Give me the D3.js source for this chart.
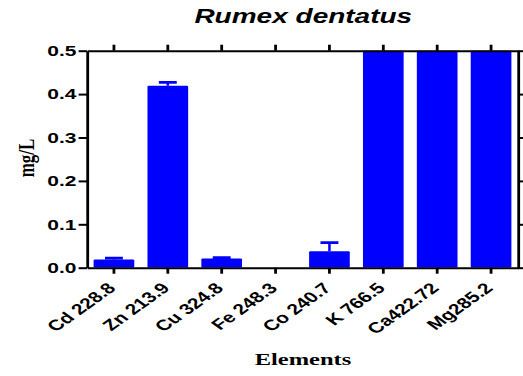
<!DOCTYPE html>
<html>
<head>
<meta charset="utf-8">
<script src="https://cdn.jsdelivr.net/npm/d3@7"></script>
<style>
  html, body { margin: 0; padding: 0; background: #fff; }
  svg { display: block; }
</style>
</head>
<body>
<script>
// ---- data ----
const categories = ["Cd 228.8", "Zn 213.9", "Cu 324.8", "Fe 248.3", "Co 240.7", "K 766.5", "Ca422.72", "Mg285.2"];
// K, Ca and Mg exceed the 0.5 axis limit (bars clipped at top)
const means  = [0.019, 0.419, 0.021, 0.0, 0.038, 5.0, 5.0, 5.0];
const errors = [0.003, 0.008, 0.002, 0.0, 0.020, 0.0, 0.0, 0.0];
const yTicks = [0, 0.1, 0.2, 0.3, 0.4, 0.5];
const chartTitle = "Rumex dentatus";
const yTitle = "mg/L";
const xTitle = "Elements";

(function () {
// ---- layout ----
const W = 523, H = 376;
const SX = 1.4; // horizontal stretch of the whole figure
const pLeft = 87 / SX, pRight = 518 / SX, pTop = 50.7, pBottom = 267.7;
const blue = "#0000ff";

const svg = d3.select("body").append("svg").attr("width", W).attr("height", H);
const g = svg.append("g").attr("transform", `scale(${SX},1)`);

const x = d3.scaleBand().domain(categories).range([pLeft, pRight])
  .paddingInner(0.245).paddingOuter(0.1225);
const y = d3.scaleLinear().domain([0, 0.5]).range([pBottom, pTop]);

g.append("clipPath").attr("id", "plotclip").append("rect")
  .attr("x", pLeft).attr("y", pTop).attr("width", pRight - pLeft).attr("height", pBottom - pTop);

const data = categories.map((c, i) => ({ c, v: means[i], e: errors[i] }));

const plot = g.append("g").attr("clip-path", "url(#plotclip)");
plot.selectAll("rect.bar").data(data).join("rect")
  .attr("class", "bar")
  .attr("x", d => x(d.c))
  .attr("width", x.bandwidth())
  .attr("y", d => y(d.v))
  .attr("height", d => Math.max(0, pBottom - y(d.v)))
  .attr("rx", 1)
  .attr("fill", blue);

const eb = plot.selectAll("g.err").data(data.filter(d => d.e > 0)).join("g").attr("class", "err");
eb.append("line")
  .attr("x1", d => x(d.c) + x.bandwidth() / 2).attr("x2", d => x(d.c) + x.bandwidth() / 2)
  .attr("y1", d => y(d.v)).attr("y2", d => y(d.v + d.e))
  .attr("stroke", blue).attr("stroke-width", 1.8);
eb.append("line")
  .attr("x1", d => x(d.c) + x.bandwidth() / 2 - 6.4).attr("x2", d => x(d.c) + x.bandwidth() / 2 + 6.4)
  .attr("y1", d => y(d.v + d.e)).attr("y2", d => y(d.v + d.e))
  .attr("stroke", blue).attr("stroke-width", 2.7);

// ---- axes ----
const fontSans = "'Liberation Sans', Arial, sans-serif";
const fontSerif = "'Liberation Serif', 'Times New Roman', serif";

function styleAxis(sel) {
  sel.selectAll("path.domain").attr("stroke", "#000").attr("stroke-width", 2);
  sel.selectAll(".tick line").attr("stroke", "#000").attr("stroke-width", 2);
}

const gl = g.append("g").attr("transform", `translate(${pLeft},0)`)
  .call(d3.axisLeft(y).tickValues(yTicks).tickFormat(d3.format(".1f"))
    .tickSize(6).tickSizeOuter(0).tickPadding(1.5));
styleAxis(gl);
gl.selectAll("text").attr("font-family", fontSans).attr("font-weight", "bold")
  .attr("font-size", 15).attr("fill", "#000");

const gr = g.append("g").attr("transform", `translate(${pRight},0)`)
  .call(d3.axisRight(y).tickValues(yTicks).tickFormat("").tickSize(4).tickSizeOuter(0));
styleAxis(gr);

const gb = g.append("g").attr("transform", `translate(0,${pBottom})`)
  .call(d3.axisBottom(x).tickSize(6).tickSizeOuter(0).tickFormat(""));
styleAxis(gb);

const gt = g.append("g").attr("transform", `translate(0,${pTop})`)
  .call(d3.axisTop(x).tickSize(6).tickSizeOuter(0).tickFormat(""));
styleAxis(gt);

g.append("g").selectAll("text").data(categories).join("text")
  .attr("transform", d => `translate(${x(d) + x.bandwidth() / 2 + 2.1},289) rotate(-45)`)
  .attr("text-anchor", "end")
  .attr("font-family", fontSans).attr("font-weight", "bold").attr("font-size", 15)
  .attr("fill", "#000")
  .text(d => d);

g.append("text")
  .attr("x", 303.3 / SX).attr("y", 23.5)
  .attr("text-anchor", "middle")
  .attr("font-family", fontSans).attr("font-weight", "bold").attr("font-style", "italic")
  .attr("font-size", 20).attr("fill", "#000")
  .text(chartTitle);

g.append("text")
  .attr("transform", `translate(${34 / SX},158) rotate(-90)`)
  .attr("text-anchor", "middle")
  .attr("font-family", fontSerif).attr("font-weight", "bold")
  .attr("font-size", 17).attr("fill", "#000")
  .text(yTitle);

g.append("text")
  .attr("x", 303 / SX).attr("y", 365)
  .attr("text-anchor", "middle")
  .attr("font-family", fontSerif).attr("font-weight", "bold")
  .attr("font-size", 17.5).attr("fill", "#000")
  .text(xTitle);
})();
</script>
</body>
</html>
